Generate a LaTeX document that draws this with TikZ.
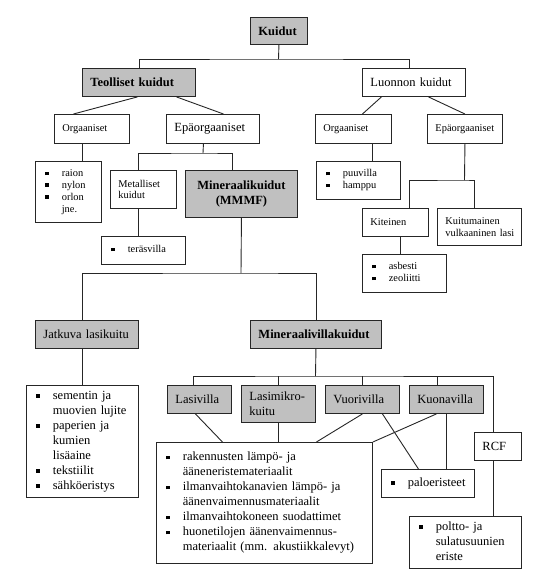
\documentclass[tikz,border=0pt]{standalone}
\usepackage{fontspec}
\setmainfont{Liberation Serif}
\definecolor{boxgray}{RGB}{192,192,192}
\newcommand{\largefnt}{\fontsize{12.5}{15}\selectfont}
\newcommand{\smallfnt}{\fontsize{10.4}{11.8}\selectfont}
\newcommand{\blt}{\rule[1.6pt]{3.4pt}{3.4pt}}
\tikzset{
	box/.style={draw=black!85, line width=0.9pt, anchor=north west, inner ysep=0pt, inner xsep=8pt, align=left, font=\largefnt},
	gbox/.style={box, fill=boxgray},
	hd/.style={font=\largefnt\bfseries},
	sml/.style={font=\smallfnt},
	lst/.style={inner xsep=10pt},
	sz/.style 2 args={text width=#1, minimum height=#2},
	link/.style={draw=black!85, line width=0.9pt},
}

\begin{document}
\begin{tikzpicture}[x=1pt, y=-1pt]
	\useasboundingbox (0,0) rectangle (539,576);

	% top levels
	\node[gbox, hd, sz={41pt}{27pt}](kuidut) at (250,17) {Kuidut};
	\node[gbox, hd, sz={97pt}{28pt}](teol) at (82,68) {Teolliset kuidut};
	\node[box, sz={87pt}{28pt}](luon) at (362,68) {Luonnon kuidut};

	\node[box, sml, sz={59pt}{29pt}](orgL) at (54,114) {Orgaaniset};
	\node[box, sz={77pt}{29pt}](epoL) at (166,114) {Epäorgaaniset};
	\node[box, sml, sz={60pt}{29pt}](orgR) at (315,114) {Orgaaniset};
	\node[box, sml, sz={59pt}{29pt}](epoR) at (427,114) {Epäorgaaniset};

	% second levels
	\node[box, sml, lst, sz={46pt}{61pt}](synt) at (35,161) {\begin{tabular}{@{}l@{\hspace{13pt}}l@{}}
		\blt & raion\\ \blt & nylon\\ \blt & orlon\\ & jne.\end{tabular}};
	\node[box, sml, sz={50pt}{38pt}](metal) at (110,170) {Metalliset\\kuidut};
	\node[gbox, hd, sz={96pt}{47pt}, align=center](mmmf) at (185,170) {Mineraalikuidut\\(MMMF)};
	\node[box, sml, lst, sz={64pt}{28pt}](teras) at (101,236) {\begin{tabular}{@{}l@{\hspace{13pt}}l@{}}
		\blt & teräsvilla\end{tabular}};
	\node[box, sml, lst, sz={64pt}{38pt}](puuv) at (316,161) {\begin{tabular}{@{}l@{\hspace{13pt}}l@{}}
		\blt & puuvilla\\ \blt & hamppu\end{tabular}};
	\node[box, sml, sz={50pt}{28pt}](kite) at (362,208) {Kiteinen};
	\node[box, sml, sz={68pt}{37pt}](kvul) at (437,208) {Kuitumainen\\\mbox{vulkaaninen lasi}};
	\node[box, sml, lst, sz={64pt}{38pt}](asb) at (362,254) {\begin{tabular}{@{}l@{\hspace{13pt}}l@{}}
		\blt & asbesti\\ \blt & zeoliitti\end{tabular}};

	% mineral fibres
	\node[gbox, sz={87pt}{28pt}](jatk) at (35,320) {Jatkuva lasikuitu};
	\node[gbox, hd, sz={115pt}{28pt}](mvk) at (250,320) {Mineraalivillakuidut};
	\node[box, lst, sz={92pt}{112pt}](jkay) at (26,385) {\begin{tabular}{@{}l@{\hspace{13pt}}l@{}}
		\blt & sementin ja\\ & muovien lujite\\ \blt & paperien ja\\ & kumien\\ & lisäaine\\
		\blt & tekstiilit\\ \blt & sähköeristys\end{tabular}};

	\node[gbox, sz={48pt}{28pt}](lasv) at (167,385) {Lasivilla};
	\node[gbox, sz={58pt}{37pt}](lmik) at (241,385) {Lasimikro-\\kuitu};
	\node[gbox, sz={58pt}{28pt}](vuor) at (325,385) {Vuorivilla};
	\node[gbox, sz={58pt}{28pt}](kuon) at (409,385) {Kuonavilla};
	\node[box, sz={31pt}{28pt}](rcf) at (474,432) {RCF};

	\node[box, lst, sz={196pt}{121pt}](vkay) at (156,442) {\begin{tabular}{@{}l@{\hspace{13pt}}l@{}}
		\blt & rakennusten lämpö- ja\\ & ääneneristemateriaalit\\
		\blt & ilmanvaihtokanavien lämpö- ja\\ & äänenvaimennusmateriaalit\\
		\blt & ilmanvaihtokoneen suodattimet\\
		\blt & huonetilojen äänenvaimennus-\\ & materiaalit (mm. akustiikkalevyt)\end{tabular}};
	\node[box, lst, sz={73pt}{28pt}](palo) at (381,469) {\begin{tabular}{@{}l@{\hspace{13pt}}l@{}}
		\blt & paloeristeet\end{tabular}};
	\node[box, lst, sz={92pt}{52pt}](polt) at (409,516) {\begin{tabular}{@{}l@{\hspace{13pt}}l@{}}
		\blt & poltto- ja\\ & sulatusuunien\\ & eriste\end{tabular}};

	% junctions
	\coordinate (j0) at (278.5,59);
	\coordinate (j1) at (203,153);
	\coordinate (j2) at (241,273);
	\coordinate (j3) at (464.5,180);
	\coordinate (j4) at (315.5,376);

	% links
	\draw[link](kuidut.south) -- (j0);
	\draw[link](teol.north) |- (j0) -| ([xshift=-4.5pt]luon.north);
	\draw[link]([xshift=-1.5pt]teol.south) -- ([xshift=-18.5pt]orgL.north);
	\draw[link]([xshift=37.5pt]teol.south) -- ([xshift=10.5pt]epoL.north);
	\draw[link]([xshift=-32.5pt]luon.south) -- ([xshift=9pt]orgR.north);
	\draw[link]([xshift=14.5pt]luon.south) -- (epoR.north);

	\draw[link]([xshift=-9.5pt]orgL.south) -- ([xshift=-9.5pt]orgL.south |- synt.north);
	\draw[link]([xshift=-9.5pt]epoL.south) -- (j1);
	\draw[link]([xshift=-5pt]metal.north) |- (j1) -| ([xshift=-9pt]mmmf.north);
	\draw[link]([xshift=-5pt]metal.south) -- ([xshift=-5pt]metal.south |- teras.north);
	\draw[link](mmmf.south) -- (j2);
	\draw[link]([xshift=-4.5pt]jatk.north) |- (j2) -| (mvk.north);

	\draw[link]([xshift=19pt]orgR.south) -- ([xshift=19pt]orgR.south |- puuv.north);
	\draw[link](epoR.south) -- (j3);
	\draw[link]([xshift=14pt]kite.north) |- (j3) -| ([xshift=-5pt]kvul.north);
	\draw[link]([xshift=5pt]kite.south) -- ([xshift=5pt]kite.south |- asb.north);

	\draw[link]([xshift=-4.5pt]jatk.south) -- (jkay.north);
	\draw[link](mvk.south) -- (j4);
	\draw[link]([xshift=-6pt]lasv.north) |- (j4) -| ([xshift=-4.5pt]rcf.north);
	\draw[link](lmik.north) -- (lmik.north |- j4);
	\draw[link](vuor.north) -- (vuor.north |- j4);
	\draw[link]([xshift=-9pt]kuon.north) -- ([xshift=-9pt]kuon.north |- j4);
	\draw[link]([xshift=-4.5pt]rcf.south) -- ([xshift=-4.5pt]rcf.south |- polt.north);

	\draw[link]([xshift=-4pt]lasv.south) -- ([xshift=-42pt]vkay.north);
	\draw[link](lmik.south) -- (lmik.south |- vkay.north);
	\draw[link](vuor.south) -- ([xshift=52pt]vkay.north);
	\draw[link]([xshift=-10pt]kuon.south) -- (vkay.north east);
	\draw[link]([xshift=20pt]vuor.south) -- ([xshift=-9.5pt]palo.north);
	\draw[link](kuon.south) -- (kuon.south |- palo.north);
\end{tikzpicture}
\end{document}
